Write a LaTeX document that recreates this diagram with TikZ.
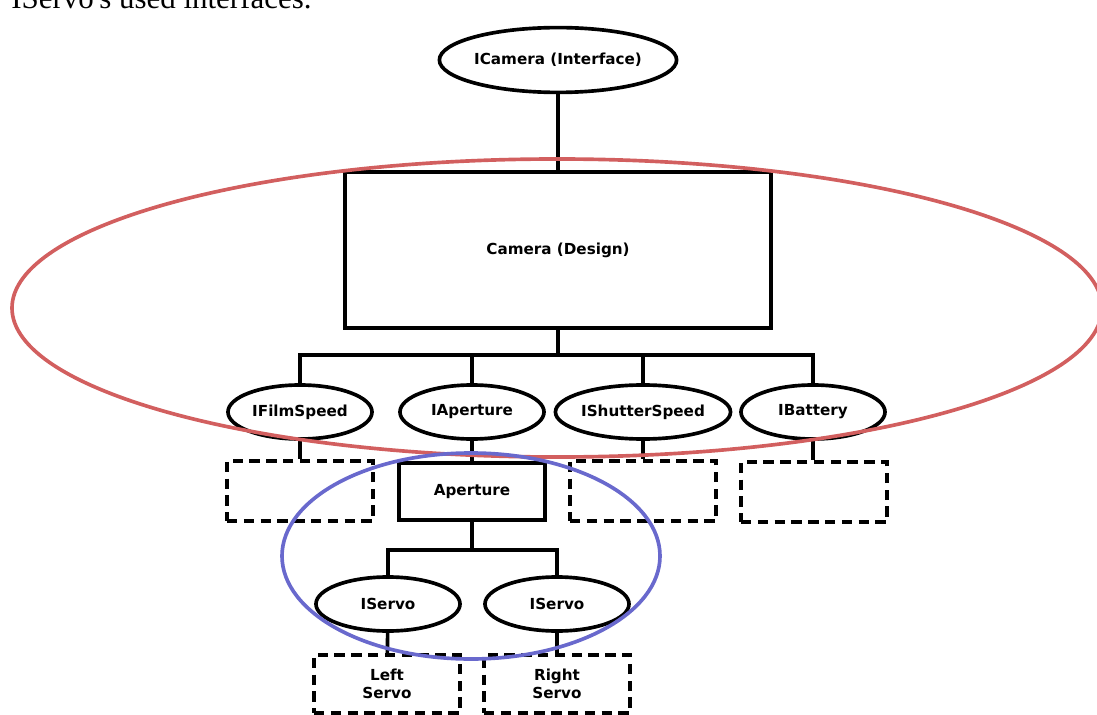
\documentclass[tikz,border=0pt]{standalone}
\usepackage{fontspec}
\setsansfont{DejaVu Sans}
\newfontfamily\captionserif{Liberation Serif}
\usepackage{tikz}
\usetikzlibrary{shapes,arrows,positioning}
\definecolor{GroupRed}{RGB}{210, 95, 95}
\definecolor{GroupBlue}{RGB}{105, 105, 205}

\begin{document}
\begin{tikzpicture}[x=0.025cm, y=-0.025cm,
    iface/.style={ellipse, draw=black, line width=2.6pt, inner sep=0pt, minimum width=3.6cm, minimum height=1.35cm, font=\sffamily\bfseries\fontsize{10.8}{13}\selectfont},
    design/.style={rectangle, draw=black, line width=2.6pt, align=center, font=\sffamily\bfseries\fontsize{10.8}{13}\selectfont},
    slot/.style={rectangle, draw=black, line width=2.6pt, dash pattern=on 0.26cm off 0.16cm, minimum width=3.65cm, minimum height=1.5cm, align=center, font=\sffamily\bfseries\fontsize{10.8}{12.6}\selectfont},
    wire/.style={draw=black, line width=2.6pt},
    group/.style={line width=2.6pt}
  ]
    \clip (0,0) rectangle (1097,715);

    \node[anchor=base west, inner sep=0pt, font=\captionserif\fontsize{22}{26}\selectfont] (caption) at (11,9) {IServo's used interfaces.};

    \node[iface, minimum width=5cm, minimum height=1.62cm] (icam) at (558,60) {ICamera (Interface)};
    \node[design, minimum width=10.65cm, minimum height=3.9cm] (cam) at (558,250) {Camera (Design)};

    \node[iface] (ifilm) at (300,412) {IFilmSpeed};
    \node[iface] (iap) at (472,412) {IAperture};
    \node[iface] (ishut) at (643,412) {IShutterSpeed};
    \node[iface] (ibat) at (813,412) {IBattery};

    \node[slot] (filmslot) at (300,491) {};
    \node[design, minimum width=3.65cm, minimum height=1.42cm] (ap) at (472,491.5) {Aperture};
    \node[slot] (shutslot) at (643,491) {};
    \node[slot] (batslot) at (814,492) {};

    \node[iface] (lservo) at (388,604) {IServo};
    \node[iface] (rservo) at (557,604) {IServo};

    \node[slot, minimum height=1.45cm] (lslot) at (387,684) {Left\\Servo};
    \node[slot, minimum height=1.45cm] (rslot) at (557,684) {Right\\Servo};

    \coordinate (cambus) at (558,355);
    \coordinate (apbus) at (472,550);

    \draw[wire] (icam) -- (cam);
    \draw[wire] (cam.south) -- (cambus);
    \draw[wire] (ifilm.north) |- (cambus) -| (ibat.north);
    \draw[wire] (iap.north) -- (iap.north |- cambus);
    \draw[wire] (ishut.north) -- (ishut.north |- cambus);

    \draw[wire] (ifilm) -- (filmslot);
    \draw[wire] (iap) -- (ap);
    \draw[wire] (ishut) -- (shutslot);
    \draw[wire] (ibat.south) -- (ibat.south |- batslot.north);

    \draw[wire] (ap.south) -- (apbus);
    \draw[wire] (lservo.north) |- (apbus) -| (rservo.north);
    \draw[wire] (lservo) -- (lslot);
    \draw[wire] (rservo) -- (rslot);

    \draw[group, GroupRed] (557,308) ellipse [x radius=545, y radius=149];
    \draw[group, GroupBlue] (471,556) ellipse [x radius=189, y radius=103];
  \end{tikzpicture}
\end{document}
